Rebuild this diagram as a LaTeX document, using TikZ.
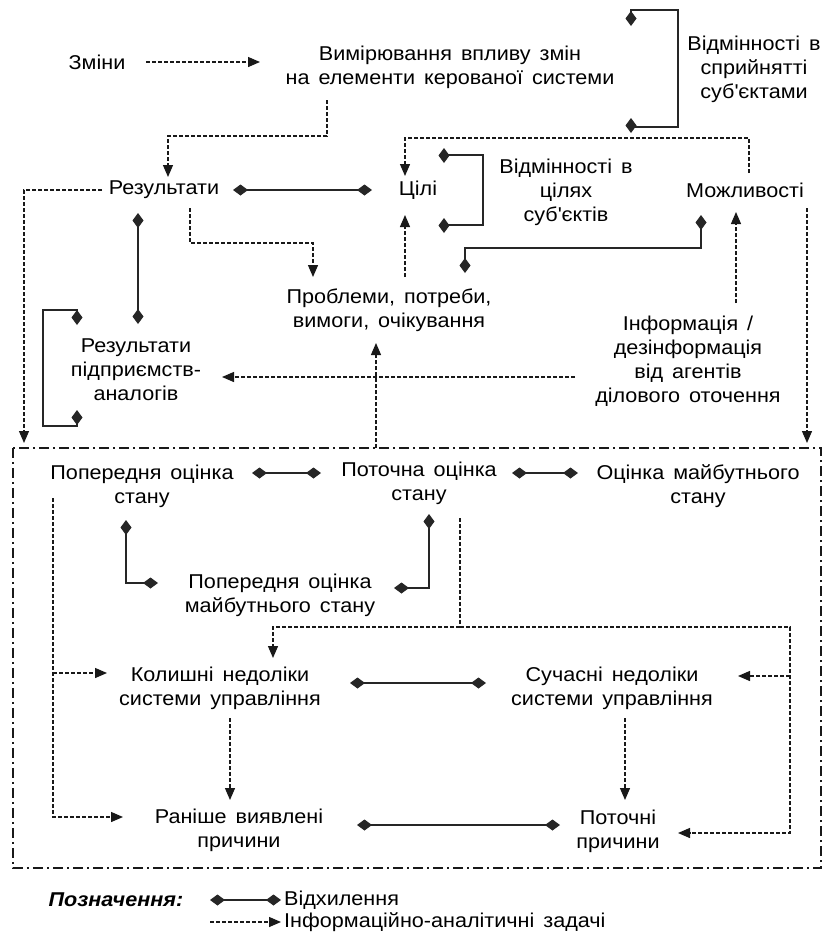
\documentclass[tikz,border=0pt]{standalone}
\usepackage{fontspec}
\setmainfont{Liberation Sans}[FakeStretch=1.08, WordSpace=1.5]
\usetikzlibrary{arrows.meta}
\begin{document}
\begin{tikzpicture}[x=1pt,y=-1pt,
  lbl/.style={font=\fontsize{20}{24}\selectfont, align=center, inner sep=0pt},
  info/.style={draw=black!90, line width=1.3pt, dash pattern=on 4pt off 2pt, -{Triangle[length=12pt,width=10pt]}},
  infoline/.style={draw=black!90, line width=1.3pt, dash pattern=on 4pt off 2pt},
  dev/.style={draw=black!85, line width=1.8pt, {Diamond[length=15pt,width=11pt]}-{Diamond[length=15pt,width=11pt]}},
  frame/.style={draw=black!90, line width=1.4pt, dash pattern=on 10pt off 4pt on 2pt off 4pt}]
\useasboundingbox (0,0) rectangle (824,938);
\fill[white] (0,0) rectangle (824,938);

% frame
\coordinate (frTL) at (13,448);
\coordinate (frTR) at (821,448);
\coordinate (frBR) at (821,868);
\draw[frame] (frTL) rectangle (frBR);

% nodes
\node[lbl] (zm) at (97,62) {Зміни};
\node[lbl] (vym) at (450,67) {Вимірювання впливу змін\\на елементи керованої системи};
\node[lbl] (vsp) at (754,69) {Відмінності в\\сприйнятті\\суб\textquotesingle єктами};
\node[lbl] (res) at (164,190) {Результати};
\node[lbl] (cil) at (418,190) {Цілі};
\node[lbl] (vcil) at (566,192) {Відмінності в\\цілях\\суб\textquotesingle єктів};
\node[lbl] (mozh) at (745,190) {Можливості};
\node[lbl] (prob) at (389,310) {Проблеми, потреби,\\вимоги, очікування};
\node[lbl] (rpa) at (136,370) {Результати\\підприємств-\\аналогів};
\node[lbl] (inf) at (688,361) {Інформація /\\дезінформація\\від агентів\\ділового оточення};
\node[lbl] (pos) at (142,486) {Попередня оцінка\\стану};
\node[lbl] (pot) at (419,483) {Поточна оцінка\\стану};
\node[lbl] (omb) at (698,486) {Оцінка майбутнього\\стану};
\node[lbl] (pomb) at (280,595) {Попередня оцінка\\майбутнього стану};
\node[lbl] (kol) at (220,688) {Колишні недоліки\\системи управління};
\node[lbl] (such) at (612,688) {Сучасні недоліки\\системи управління};
\node[lbl] (ran) at (239,830) {Раніше виявлені\\причини};
\node[lbl] (ptp) at (618,831) {Поточні\\причини};
\node[lbl, font=\fontsize{20}{24}\selectfont\bfseries\itshape] (leg) at (116,900) {Позначення:};
\node[lbl, anchor=west] (legdev) at (284,900) {Відхилення};
\node[lbl, anchor=west] (leginfo) at (284,922) {Інформаційно-аналітичні задачі};

% upper part
\draw[info] ([shift={(49,0)}]zm.center) -- ([shift={(-190,-5)}]vym.center);
\draw[dev] ([shift={(-123,-43)}]vsp.center) -- ++(0,-16) -- ++(47,0) -- ++(0,117) -- ++(-47,0) -- ++(0,-9);
\draw[info] ([shift={(-123,33)}]vym.center) -- ++(0,36) -| ([shift={(4,-13)}]res.center);
\draw[info] ([shift={(4,-17)}]mozh.center) -- ++(0,-35) -| ([shift={(-13,-14)}]cil.center);
\draw[dev] ([shift={(69,0)}]res.center) -- ([shift={(-46,0)}]cil.center);
\draw[dev] ([shift={(-122,-29)}]vcil.center) -- ++(0,-8) -- ++(39,0) -- ++(0,70) -- ++(-39,0) -- ++(0,-7);
\draw[info] ([shift={(-62,0)}]res.center) -| ([shift={(11,-5)}]frTL);
\draw[info] ([shift={(26,18)}]res.center) -- ++(0,35) -| ([shift={(-76,-33)}]prob.center);
\draw[dev] ([shift={(-26,23)}]res.center) -- ([shift={(2,-46)}]rpa.center);
\draw[dev] ([shift={(-44,25)}]mozh.center) -- ++(0,33) -| ([shift={(76,-37)}]prob.center);
\draw[info] ([shift={(16,-33)}]prob.center) -- ([shift={(-13,25)}]cil.center);
\draw[info] ([shift={(48,-58)}]inf.center) -- ([shift={(-9,22)}]mozh.center);
\draw[info] ([shift={(62,18)}]mozh.center) -- ([shift={(-14,-5)}]frTR);
\draw[dev] ([shift={(-59,-45)}]rpa.center) -- ++(0,-15) -- ++(-34,0) -- ++(0,116) -- ++(34,0) -- ++(0,-16);
\draw[info] ([shift={(-113,16)}]inf.center) -- ([shift={(86,7)}]rpa.center);
\draw[info] ([shift={(363,0)}]frTL) -- ([shift={(-13,33)}]prob.center);

% inside frame
\draw[dev] ([shift={(110,-13)}]pos.center) -- ([shift={(-98,-10)}]pot.center);
\draw[dev] ([shift={(93,-10)}]pot.center) -- ([shift={(-120,-13)}]omb.center);
\draw[dev] ([shift={(-16,34)}]pos.center) -- ++(0,63) -- ([shift={(-122,-12)}]pomb.center);
\draw[dev] ([shift={(10,31)}]pot.center) -- ++(0,74) -- ([shift={(114,-7)}]pomb.center);
\draw[info] ([shift={(-89,12)}]pos.center) |- ([shift={(-116,-13)}]ran.center);
\draw[info] ([shift={(-167,-15)}]kol.center) -- ([shift={(-113,-15)}]kol.center);
\draw[infoline] ([shift={(41,35)}]pot.center) -- ([shift={(41,144)}]pot.center);
\draw[info] ([shift={(41,144)}]pot.center) -| ([shift={(53,-30)}]kol.center);
\draw[info] ([shift={(41,144)}]pot.center) -- ++(330,0) |- ([shift={(60,2)}]ptp.center);
\draw[info] ([shift={(178,-12)}]such.center) -- ([shift={(126,-12)}]such.center);
\draw[dev] ([shift={(130,-5)}]kol.center) -- ([shift={(-126,-5)}]such.center);
\draw[info] ([shift={(10,30)}]kol.center) -- ([shift={(-9,-30)}]ran.center);
\draw[info] ([shift={(13,30)}]such.center) -- ([shift={(7,-31)}]ptp.center);
\draw[dev] ([shift={(118,-5)}]ran.center) -- ([shift={(-58,-6)}]ptp.center);

% legend
\draw[dev] ([shift={(94,0)}]leg.center) -- ([shift={(-3,0)}]legdev.west);
\draw[info] ([shift={(94,22)}]leg.center) -- ([shift={(-3,0)}]leginfo.west);
\end{tikzpicture}
\end{document}
